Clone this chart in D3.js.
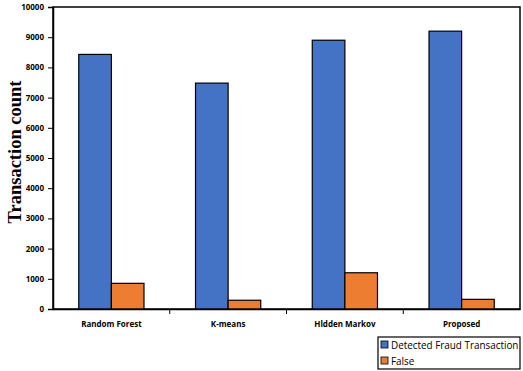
<!DOCTYPE html>
<html>
<head>
<meta charset="utf-8">
<script src="https://cdn.jsdelivr.net/npm/d3@7"></script>
<style>
  body { margin: 0; background: #fff; }
  svg { display: block; }
  .tick text { font-family: "Open Sans", sans-serif; font-weight: bold; font-size: 8px; fill: #000; }
</style>
</head>
<body>
<svg id="chart"></svg>
<script>
// data
const methods = ['Random Forest', 'K-means', 'Hidden Markov', 'Proposed'];
const seriesNames = ['Detected Fraud Transaction', 'False'];
const detected = [8430, 7480, 8900, 9200];
const falseCount = [850, 290, 1200, 320];
const yTicks = [0, 1000, 2000, 3000, 4000, 5000, 6000, 7000, 8000, 9000, 10000];

const colours = ['#4472C4', '#ED7D31'];

const config = {
  width: 523,
  height: 371,
  margin: { top: 7, right: 3, bottom: 62, left: 53 },
};

const svg = d3.select('#chart')
  .attr('width', config.width)
  .attr('height', config.height);

const innerW = config.width - config.margin.left - config.margin.right;
const innerH = config.height - config.margin.top - config.margin.bottom;

const g = svg.append('g')
  .attr('transform', `translate(${config.margin.left},${config.margin.top})`);

const x = d3.scaleBand().domain(methods).range([0, innerW]);
const inner = d3.scaleBand().domain(seriesNames)
  .range([0, x.bandwidth()]).paddingInner(0).paddingOuter(0.79);
const y = d3.scaleLinear().domain([0, 10000]).range([innerH, 0]);

// plot frame
g.append('rect')
  .attr('width', innerW)
  .attr('height', innerH)
  .attr('fill', 'none')
  .attr('stroke', '#000')
  .attr('stroke-width', 1.5);

const rows = methods.map((m, i) => ({ method: m, values: [detected[i], falseCount[i]] }));

g.selectAll('.group')
  .data(rows)
  .join('g')
  .attr('class', 'group')
  .attr('transform', d => `translate(${x(d.method)},0)`)
  .selectAll('rect')
  .data(d => d.values.map((v, j) => ({ key: seriesNames[j], value: v, j })))
  .join('rect')
  .attr('x', d => inner(d.key))
  .attr('y', d => y(d.value))
  .attr('width', inner.bandwidth())
  .attr('height', d => innerH - y(d.value))
  .attr('fill', d => colours[d.j])
  .attr('stroke', '#000')
  .attr('stroke-width', 1.2);

// y axis
const yAxis = g.append('g')
  .call(d3.axisLeft(y).tickValues(yTicks).tickSize(5).tickPadding(4).tickFormat(d3.format('d')));
yAxis.select('.domain').attr('stroke', '#000').attr('stroke-width', 1.5);

// x axis, ticks at the category boundaries
const xAxis = g.append('g')
  .attr('transform', `translate(0,${innerH})`)
  .call(d3.axisBottom(x).tickSize(0).tickPadding(12));
xAxis.select('.domain').attr('stroke', '#000').attr('stroke-width', 1.5);
xAxis.selectAll('.tick text').text(d => d === 'Hidden Markov' ? 'Hldden Markov' : d);

g.append('g')
  .selectAll('line')
  .data(methods.slice(1))
  .join('line')
  .attr('x1', d => x(d)).attr('x2', d => x(d))
  .attr('y1', innerH).attr('y2', innerH + 5)
  .attr('stroke', '#000');

// y axis title
svg.append('text')
  .attr('transform', 'translate(21,152) rotate(-90)')
  .attr('text-anchor', 'middle')
  .attr('font-family', '"Liberation Serif", serif')
  .attr('font-weight', 'bold')
  .attr('font-size', 18.5)
  .text('Transaction count');

// legend
const legend = svg.append('g').attr('transform', 'translate(378,337)');
legend.append('rect')
  .attr('width', 142).attr('height', 32)
  .attr('fill', '#fff').attr('stroke', '#000').attr('stroke-width', 1.2);

const items = legend.selectAll('.item')
  .data(seriesNames)
  .join('g')
  .attr('class', 'item')
  .attr('transform', (d, i) => `translate(3,${4 + i * 16})`);
items.append('rect')
  .attr('width', 7).attr('height', 7)
  .attr('fill', (d, i) => colours[i])
  .attr('stroke', '#000').attr('stroke-width', 0.8);
items.append('text')
  .attr('x', 10).attr('y', 7.5)
  .attr('font-family', '"Open Sans", sans-serif')
  .attr('font-size', 9.9)
  .text(d => d);
</script>
</body>
</html>
